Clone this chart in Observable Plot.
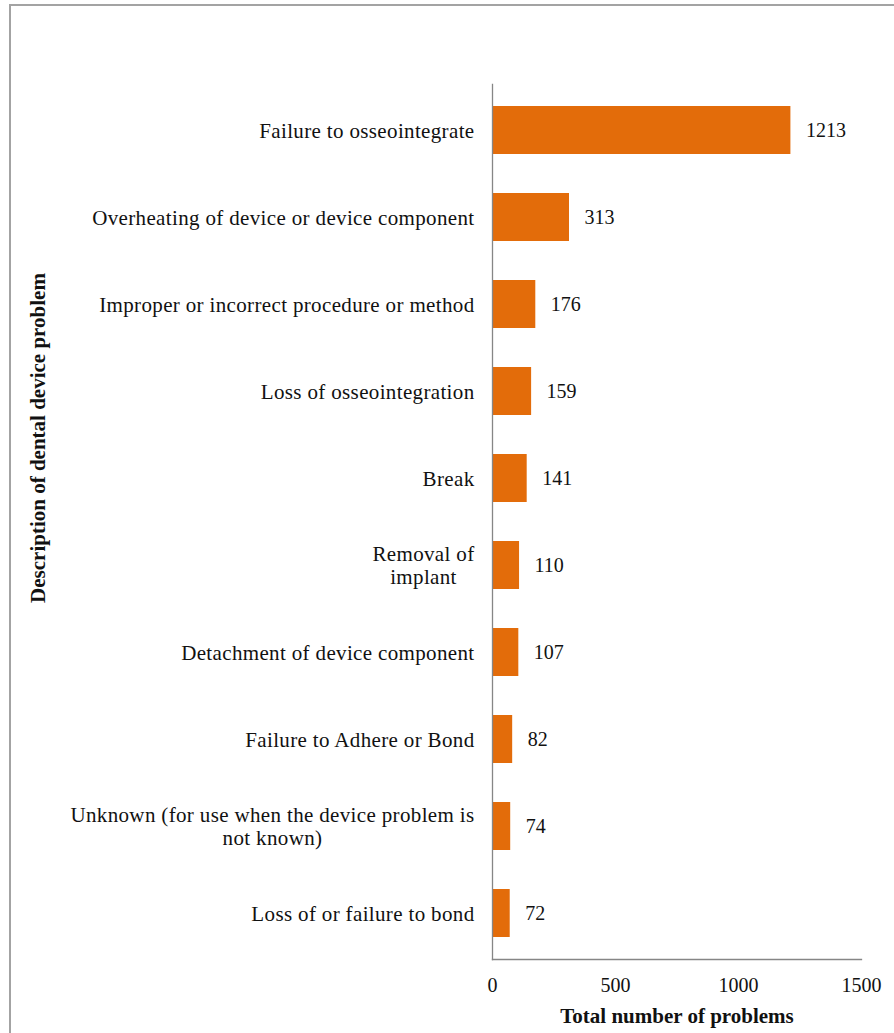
<!DOCTYPE html>
<html><head><meta charset="utf-8">
<script src="https://cdn.jsdelivr.net/npm/d3@7"></script>
<script src="https://cdn.jsdelivr.net/npm/@observablehq/plot@0.6"></script>
<style>
body{margin:0;background:#fff;}
#wrap{position:relative;width:894px;height:1033px;overflow:hidden;background:#fff;}
#wrap svg{position:absolute;left:0;top:0;}
#frame{position:absolute;left:9px;top:4px;width:960px;height:1100px;border:2px solid #a3a3a3;box-sizing:border-box;pointer-events:none;}
</style></head><body><div id="wrap"><div id="frame"></div></div>
<script>
const categories = [
  "Failure to osseointegrate",
  "Overheating of device or device component",
  "Improper or incorrect procedure or method",
  "Loss of osseointegration",
  "Break",
  "Removal of\nimplant",
  "Detachment of device component",
  "Failure to Adhere or Bond",
  "Unknown (for use when the device problem is\nnot known)",
  "Loss of or failure to bond"
];
const values = [1213, 313, 176, 159, 141, 110, 107, 82, 74, 72];
const xTicks = [0, 500, 1000, 1500];
const xTitle = "Total number of problems";
const yTitle = "Description of dental device problem";

const data = categories.map((c, i) => ({category: c, value: values[i]}));
const font = "'Liberation Serif', 'Times New Roman', serif";
const barColor = "#E36C0A";
const axisColor = "#868686";

const chart = Plot.plot({
  width: 894, height: 1033,
  marginLeft: 492, marginRight: 33, marginTop: 84, marginBottom: 74,
  style: {fontFamily: font, fontSize: "20px", color: "#111", background: "transparent", overflow: "visible"},
  x: {domain: [0, 1500]},
  y: {domain: categories, paddingInner: 0.45, paddingOuter: 0.225},
  marks: [
    Plot.barX(data, {x: "value", y: "category", fill: barColor}),
    Plot.frame({anchor: "bottom", stroke: axisColor, strokeWidth: 1.3}),
    Plot.frame({anchor: "left", stroke: axisColor, strokeWidth: 1.3}),
    Plot.text(data, {x: "value", y: "category", text: d => String(d.value), textAnchor: "start", dx: 15, fontSize: 20, fill: "#111"}),
    Plot.axisX({ticks: xTicks, tickFormat: d => String(d), tickSize: 0, tickPadding: 18, label: null, fontSize: 20}),
    Plot.axisY({tickSize: 0, tickPadding: 18, label: null, fontSize: 21, lineHeight: 1.1}),
    Plot.text([xTitle], {frameAnchor: "bottom", dy: 63, fontWeight: "bold", fontSize: 21, fill: "#111"}),
    Plot.text([yTitle], {frameAnchor: "left", textAnchor: "middle", dx: -454, dy: -84, rotate: -90, fontWeight: "bold", fontSize: 21, fill: "#111"})
  ]
});
document.getElementById("wrap").insertBefore(chart, document.getElementById("frame"));

// slightly spaced category labels, and centred wrapped labels, like the original
chart.querySelectorAll("g[aria-label='y-axis tick label'] text").forEach(t => {
  t.setAttribute("letter-spacing", "0.35");
  const spans = t.querySelectorAll("tspan");
  if (spans.length > 1) {
    const w = t.getBBox().width;
    t.setAttribute("text-anchor", "middle");
    spans.forEach(s => s.setAttribute("x", -w / 2));
  }
});
</script>
</body></html>
